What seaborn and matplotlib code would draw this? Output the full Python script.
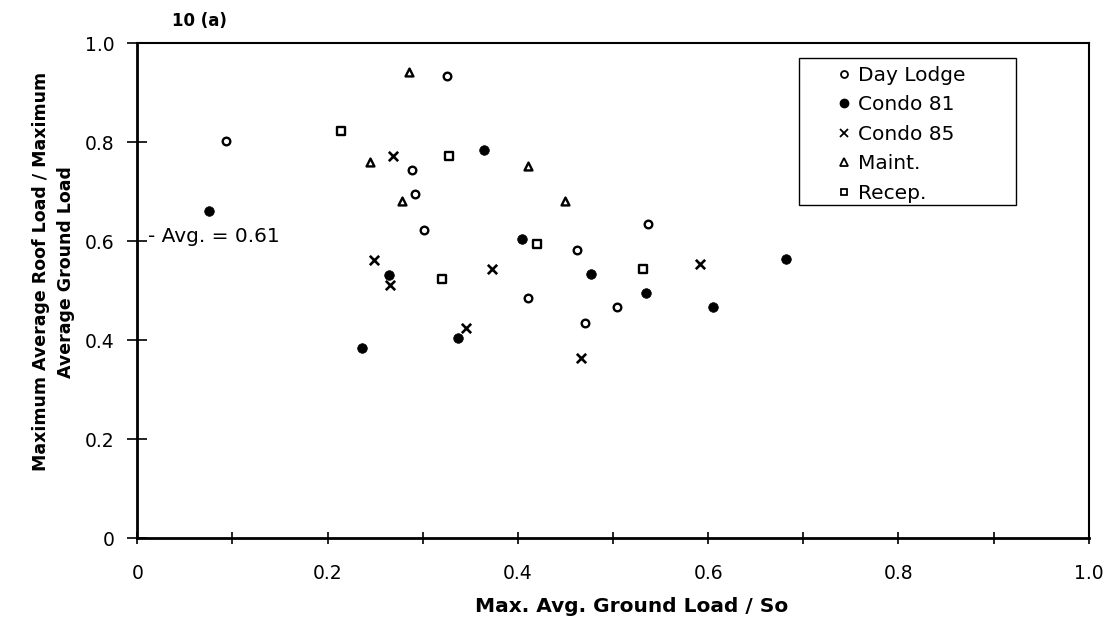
import matplotlib
matplotlib.use("Agg")
import matplotlib.pyplot as plt
import seaborn as sns
import pandas as pd
from matplotlib.lines import Line2D
from matplotlib.patches import Rectangle

# ---- data ----
buildings = ["Day Lodge", "Condo 81", "Condo 85", "Maint.", "Recep."]

day_lodge_x = [0.093, 0.326, 0.289, 0.292, 0.301, 0.537, 0.462, 0.411, 0.504, 0.470]
day_lodge_y = [0.802, 0.933, 0.744, 0.695, 0.622, 0.635, 0.583, 0.485, 0.466, 0.435]

condo81_x = [0.075, 0.364, 0.265, 0.236, 0.337, 0.404, 0.477, 0.535, 0.605, 0.682]
condo81_y = [0.661, 0.784, 0.532, 0.384, 0.404, 0.604, 0.533, 0.495, 0.466, 0.564]

condo85_x = [0.269, 0.249, 0.266, 0.373, 0.345, 0.466, 0.591]
condo85_y = [0.772, 0.562, 0.512, 0.543, 0.424, 0.365, 0.553]

maint_x = [0.286, 0.245, 0.278, 0.411, 0.450]
maint_y = [0.942, 0.759, 0.682, 0.752, 0.681]

recep_x = [0.214, 0.328, 0.420, 0.320, 0.531]
recep_y = [0.823, 0.772, 0.594, 0.523, 0.543]

avg_value = 0.61
avg_label = "- Avg. = 0.61"

x_ticks = [0, 0.2, 0.4, 0.6, 0.8, 1.0]
x_tick_labels = ["0", "0.2", "0.4", "0.6", "0.8", "1.0"]
y_ticks = [0, 0.2, 0.4, 0.6, 0.8, 1.0]
y_tick_labels = ["0", "0.2", "0.4", "0.6", "0.8", "1.0"]

title_text = "10 (a)"
x_label = "Max. Avg. Ground Load / So"
y_label = "Maximum Average Roof Load / Maximum\nAverage Ground Load"

# ---- build frame ----
frames = []
for name, xs, ys in [("Day Lodge", day_lodge_x, day_lodge_y),
                     ("Condo 81", condo81_x, condo81_y),
                     ("Condo 85", condo85_x, condo85_y),
                     ("Maint.", maint_x, maint_y),
                     ("Recep.", recep_x, recep_y)]:
    frames.append(pd.DataFrame({"x": xs, "y": ys, "Building": name}))
df = pd.concat(frames, ignore_index=True)

sns.set_theme(style="white")
plt.rcParams["font.family"] = ["DejaVu Sans"]
plt.rcParams["text.color"] = "black"
plt.rcParams["axes.labelcolor"] = "black"
plt.rcParams["xtick.color"] = "black"
plt.rcParams["ytick.color"] = "black"

fig = plt.figure(figsize=(11.11, 6.27), dpi=100)
ax = fig.add_axes([0.1236, 0.1415, 0.8564, 0.7899])

styles = {
    "Day Lodge": dict(marker="o", s=30, facecolor="white", edgecolor="black", linewidth=1.7),
    "Condo 81": dict(marker="o", s=48, facecolor="black", edgecolor="black", linewidth=0.5),
    "Condo 85": dict(marker="x", s=45, color="black", linewidth=1.9),
    "Maint.": dict(marker="^", s=32, facecolor="white", edgecolor="black", linewidth=1.7),
    "Recep.": dict(marker="s", s=32, facecolor="white", edgecolor="black", linewidth=1.7),
}

for b in buildings:
    sub = df[df["Building"] == b]
    sns.scatterplot(data=sub, x="x", y="y", ax=ax, legend=False, zorder=3, **styles[b])

ax.set_xlim(0, 1.0)
ax.set_ylim(0, 1.0)
ax.set_xticks(x_ticks)
ax.set_xticklabels(x_tick_labels, fontsize=13.5)
ax.set_xticks([0.1, 0.3, 0.5, 0.7, 0.9], minor=True)
ax.set_yticks(y_ticks)
ax.set_yticklabels(y_tick_labels, fontsize=13.5)

ax.tick_params(axis="x", which="both", direction="inout", length=9, width=1.2,
               color="black", pad=14, bottom=True)
ax.tick_params(axis="y", which="major", direction="inout", length=15, width=1.2,
               color="black", pad=9, left=True)

for side, sp in ax.spines.items():
    sp.set_visible(True)
    sp.set_color("black")
    sp.set_linewidth(1.5)
ax.spines["left"].set_linewidth(2.0)
ax.spines["bottom"].set_linewidth(2.0)

ax.set_xlabel(x_label, fontsize=14.5, fontweight="bold")
ax.xaxis.set_label_coords(0.519, -0.118)
ax.set_ylabel(y_label, fontsize=12.5, fontweight="bold", linespacing=1.5)
ax.yaxis.set_label_coords(-0.066, 0.538)

ax.text(0.011, avg_value, avg_label, fontsize=14.5, va="center", ha="left")

fig.text(0.155, 0.966, title_text, fontsize=12, fontweight="bold", va="center", ha="left")

# legend: box drawn as a rectangle, entries placed inside
box_x0 = (798.7 - 137.3) / 951.4
box_x1 = (1016.0 - 137.3) / 951.4
box_y1 = (538.3 - 58.3) / 495.3
box_y0 = (538.3 - 205.0) / 495.3
ax.add_patch(Rectangle((box_x0, box_y0), box_x1 - box_x0, box_y1 - box_y0,
                       transform=ax.transAxes, facecolor="white", edgecolor="black",
                       linewidth=1.0, zorder=4))

handles = [
    Line2D([], [], linestyle="none", marker="o", markersize=5, markerfacecolor="white",
           markeredgecolor="black", markeredgewidth=1.3),
    Line2D([], [], linestyle="none", marker="o", markersize=6, markerfacecolor="black",
           markeredgecolor="black"),
    Line2D([], [], linestyle="none", marker="x", markersize=5.5, color="black",
           markeredgewidth=1.3),
    Line2D([], [], linestyle="none", marker="^", markersize=5.5, markerfacecolor="white",
           markeredgecolor="black", markeredgewidth=1.3),
    Line2D([], [], linestyle="none", marker="s", markersize=5, markerfacecolor="white",
           markeredgecolor="black", markeredgewidth=1.3),
]
leg = ax.legend(handles, buildings, loc="upper left",
                bbox_to_anchor=((838.2 - 137.3) / 951.4, (538.3 - 66.0) / 495.3),
                fontsize=14.5, frameon=False, borderaxespad=0, borderpad=0,
                handlelength=0.6, handletextpad=0.4, labelspacing=0.52)
leg.set_zorder(5)

fig.savefig("out.png", dpi=100, facecolor="white")
